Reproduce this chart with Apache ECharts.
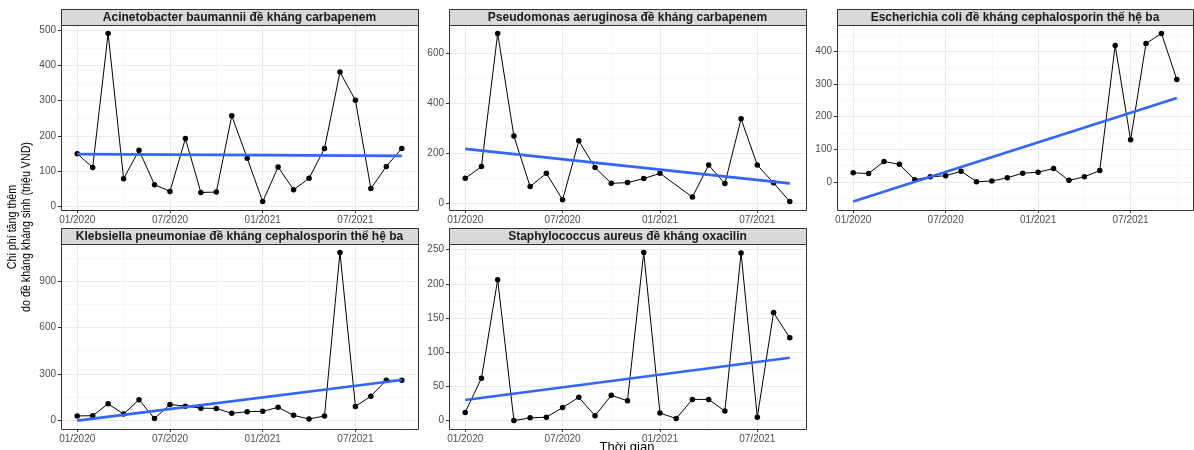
<!DOCTYPE html>
<html>
<head>
<meta charset="utf-8">
<script src="https://cdn.jsdelivr.net/npm/echarts@6/dist/echarts.min.js"></script>
<style>
html, body { margin: 0; padding: 0; background: #fff; }
#chart { width: 1194px; height: 450px; }
</style>
</head>
<body>
<div id="chart"></div>
<script>
// months on the x axis
var months = ['01/2020','02/2020','03/2020','04/2020','05/2020','06/2020','07/2020','08/2020','09/2020','10/2020','11/2020','12/2020',
              '01/2021','02/2021','03/2021','04/2021','05/2021','06/2021','07/2021','08/2021','09/2021','10/2021'];
var xTickLabels = ['01/2020', '07/2020', '01/2021', '07/2021'];

var panelTitles = [
    'Acinetobacter baumannii đề kháng carbapenem',
    'Pseudomonas aeruginosa đề kháng carbapenem',
    'Escherichia coli đề kháng cephalosporin thế hệ ba',
    'Klebsiella pneumoniae đề kháng cephalosporin thế hệ ba',
    'Staphylococcus aureus đề kháng oxacilin'
];

// monthly extra cost (million VND), null = no data for that month
var acinetobacter = [149, 110, 491, 78, 159, 61, 42, 192, 39, 40, 257, 136, 13, 111, 47, 79, 164, 381, 301, 50, 113, 164];
var pseudomonas   = [98, 145, 678, 267, 65, 118, 12, 248, 141, 78, 81, 97, 118, null, 23, 151, 77, 336, 151, 80, 5];
var ecoli         = [28, 26, 63, 54, 7, 16, 19, 33, 1, 3, 13, 27, 30, 41, 5, 16, 35, 418, 129, 424, 455, 314];
var klebsiella    = [26, 28, 105, 39, 131, 9, 101, 90, 77, 75, 43, 54, 56, 82, 30, 6, 26, 1089, 88, 155, 258, 258];
var staph         = [12, 62, 206, 0, 4, 5, 19, 34, 7, 37, 29, 246, 11, 3, 31, 31, 14, 245, 5, 158, 121];

// linear trend: value at first and last month
var acinetobacterTrend = [148, 143];
var pseudomonasTrend   = [216, 78];
var ecoliTrend         = [-60, 257];
var klebsiellaTrend    = [-4, 260];
var staphTrend         = [30, 92];

// y tick labels
var acinetobacterTicks = [0, 100, 200, 300, 400, 500];
var pseudomonasTicks   = [0, 200, 400, 600];
var ecoliTicks         = [0, 100, 200, 300, 400];
var klebsiellaTicks    = [0, 300, 600, 900];
var staphTicks         = [0, 50, 100, 150, 200, 250];

var panelData   = [acinetobacter, pseudomonas, ecoli, klebsiella, staph];
var panelTrend  = [acinetobacterTrend, pseudomonasTrend, ecoliTrend, klebsiellaTrend, staphTrend];
var panelYTicks = [acinetobacterTicks, pseudomonasTicks, ecoliTicks, klebsiellaTicks, staphTicks];

// panel boxes in px
var boxes = [
    { left: 61,  top: 25,  width: 357, height: 185 },
    { left: 449, top: 25,  width: 357, height: 185 },
    { left: 837, top: 25,  width: 356, height: 185 },
    { left: 61,  top: 244, width: 357, height: 185 },
    { left: 449, top: 244, width: 357, height: 185 }
];
var stripH = 16;

var FONT = '"Liberation Sans", Arial, sans-serif';
var xMajor = xTickLabels.map(function (l) { return months.indexOf(l); });

function minorOf(major, lo, hi) {
    var step = major[1] - major[0];
    var ext = [major[0] - step].concat(major, [major[major.length - 1] + step]);
    var out = [];
    for (var i = 0; i < ext.length - 1; i++) {
        var m = (ext[i] + ext[i + 1]) / 2;
        if (m >= lo && m <= hi) out.push(m);
    }
    return out;
}

var grids = [], xAxes = [], yAxes = [], series = [], graphics = [];

panelData.forEach(function (vals, p) {
    var b = boxes[p];
    grids.push({ left: b.left, top: b.top, width: b.width, height: b.height, show: false });

    var pts = [];
    vals.forEach(function (v, i) { if (v !== null) pts.push([i, v]); });
    var n = vals.length - 1;
    var trend = panelTrend[p];

    var ys = pts.map(function (d) { return d[1]; }).concat(trend);
    var yLo = Math.min.apply(null, ys), yHi = Math.max.apply(null, ys);
    var yPad = (yHi - yLo) * 0.05;
    var yMin = yLo - yPad, yMax = yHi + yPad;
    var xMin = -n * 0.05, xMax = n * 1.05;

    var yMajor = panelYTicks[p];
    var xMinor = minorOf(xMajor, xMin, xMax);
    var yMinor = minorOf(yMajor, yMin, yMax);

    // major x axis (labels + ticks)
    xAxes.push({
        type: 'value', gridIndex: p, min: xMin, max: xMax, position: 'bottom',
        axisLine: { show: false, onZero: false },
        axisTick: { show: true, length: 3, customValues: xMajor, lineStyle: { color: '#333333', width: 1 } },
        axisLabel: { show: true, customValues: xMajor, margin: 5, color: '#4D4D4D', fontSize: 10, fontFamily: FONT,
            formatter: function (v) { return months[Math.round(v)]; } },
        splitLine: { show: true, lineStyle: { color: '#EBEBEB', width: 1 } }
    });
    // minor x gridlines
    xAxes.push({
        type: 'value', gridIndex: p, min: xMin, max: xMax, position: 'bottom',
        axisLine: { show: false, onZero: false },
        axisTick: { show: false, customValues: xMinor },
        axisLabel: { show: false, customValues: xMinor },
        splitLine: { show: true, lineStyle: { color: '#F2F2F2', width: 0.6 } }
    });
    yAxes.push({
        type: 'value', gridIndex: p, min: yMin, max: yMax, position: 'left',
        axisLine: { show: false, onZero: false },
        axisTick: { show: true, length: 3, customValues: yMajor, lineStyle: { color: '#333333', width: 1 } },
        axisLabel: { show: true, customValues: yMajor, margin: 5, color: '#4D4D4D', fontSize: 10, fontFamily: FONT },
        splitLine: { show: true, lineStyle: { color: '#EBEBEB', width: 1 } }
    });
    yAxes.push({
        type: 'value', gridIndex: p, min: yMin, max: yMax, position: 'left',
        axisLine: { show: false, onZero: false },
        axisTick: { show: false, customValues: yMinor },
        axisLabel: { show: false, customValues: yMinor },
        splitLine: { show: true, lineStyle: { color: '#F2F2F2', width: 0.6 } }
    });

    series.push({
        type: 'line', xAxisIndex: p * 2, yAxisIndex: p * 2, data: pts,
        symbol: 'circle', symbolSize: 5.5, silent: true, animation: false,
        lineStyle: { color: '#000', width: 1 }, itemStyle: { color: '#000' }, z: 3
    });
    series.push({
        type: 'line', xAxisIndex: p * 2, yAxisIndex: p * 2,
        data: [[0, trend[0]], [n, trend[1]]],
        symbol: 'none', silent: true, animation: false,
        lineStyle: { color: '#3366FF', width: 2.6 }, z: 4
    });

    // panel border
    graphics.push({
        type: 'rect', z: 100, silent: true,
        shape: { x: b.left + 0.5, y: b.top + 0.5, width: b.width, height: b.height },
        style: { fill: 'none', stroke: '#333333', lineWidth: 1 }
    });
    // strip
    graphics.push({
        type: 'rect', z: 100, silent: true,
        shape: { x: b.left + 0.5, y: b.top - stripH + 0.5, width: b.width, height: stripH },
        style: { fill: '#D9D9D9', stroke: '#333333', lineWidth: 1 }
    });
    graphics.push({
        type: 'text', z: 101, silent: true,
        x: b.left + b.width / 2, y: b.top - stripH / 2 + 1,
        style: { text: panelTitles[p], fill: '#1A1A1A', font: 'bold 12px ' + FONT, textAlign: 'center', textVerticalAlign: 'middle' }
    });
});

// axis titles (slightly condensed like the reference)
graphics.push({
    type: 'text', silent: true, x: 13, y: 227, rotation: Math.PI / 2, scaleX: 0.89,
    style: { text: 'Chi phí tăng thêm', fill: '#000', font: '12px ' + FONT, textAlign: 'center', textVerticalAlign: 'middle' }
});
graphics.push({
    type: 'text', silent: true, x: 27, y: 227, rotation: Math.PI / 2, scaleX: 0.89,
    style: { text: 'do đề kháng kháng sinh (triệu VND)', fill: '#000', font: '12px ' + FONT, textAlign: 'center', textVerticalAlign: 'middle' }
});
graphics.push({
    type: 'text', silent: true, x: 627, y: 441,
    style: { text: 'Thời gian', fill: '#000', font: '13px ' + FONT, textAlign: 'center', textVerticalAlign: 'top' }
});

var myChart = echarts.init(document.getElementById('chart'), null, { renderer: 'canvas' });
myChart.setOption({
    animation: false,
    backgroundColor: '#fff',
    grid: grids,
    xAxis: xAxes,
    yAxis: yAxes,
    series: series,
    graphic: { elements: graphics }
});
</script>
</body>
</html>
